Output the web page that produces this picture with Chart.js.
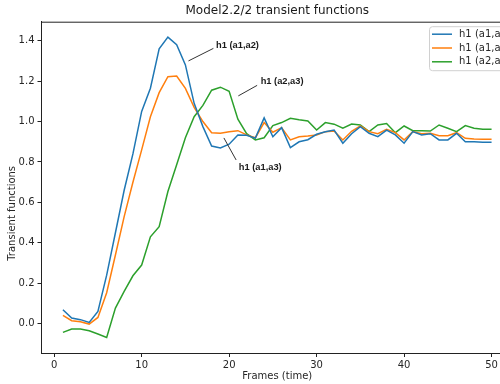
<!DOCTYPE html>
<html>
<head>
<meta charset="utf-8">
<script src="https://cdn.jsdelivr.net/npm/chart.js@4.4.0/dist/chart.umd.min.js"></script>
<style>
  html, body { margin: 0; padding: 0; overflow: hidden; background: #fff; }
  canvas { display: block; }
</style>
</head>
<body>
<canvas id="canvasTransientes" width="516" height="384"></canvas>
<script>
// frames 1..50
let frames = [];
for (let f = 1; f <= 50; f++) frames.push(f);

let nomes = ['h1 (a1,a2)', 'h1 (a1,a3)', 'h1 (a2,a3)'];
let cores = ['#1f77b4', '#ff7f0e', '#2ca02c'];

let h1a1a2 = [0.069, 0.028, 0.020, 0.006, 0.061, 0.24, 0.45, 0.66, 0.84, 1.05,
    1.165, 1.36, 1.418, 1.38, 1.28, 1.09, 0.975, 0.879, 0.869, 0.888,
    0.934, 0.932, 0.918, 1.018, 0.925, 0.970, 0.871, 0.900, 0.910, 0.937,
    0.950, 0.958, 0.893, 0.940, 0.975, 0.942, 0.925, 0.958, 0.934, 0.893,
    0.950, 0.934, 0.940, 0.909, 0.909, 0.942, 0.900, 0.900, 0.898, 0.898];

let h1a1a3 = [0.041, 0.015, 0.010, -0.002, 0.031, 0.153, 0.34, 0.53, 0.70, 0.86,
    1.024, 1.143, 1.222, 1.225, 1.164, 1.07, 1.00, 0.945, 0.942, 0.950,
    0.955, 0.934, 0.920, 0.995, 0.947, 0.970, 0.909, 0.925, 0.928, 0.934,
    0.950, 0.953, 0.909, 0.952, 0.978, 0.950, 0.940, 0.962, 0.945, 0.909,
    0.950, 0.940, 0.942, 0.930, 0.930, 0.945, 0.917, 0.914, 0.913, 0.913];

let h1a2a3 = [-0.043, -0.026, -0.026, -0.035, -0.051, -0.068, 0.077, 0.16, 0.237, 0.290,
    0.430, 0.480, 0.654, 0.786, 0.920, 1.024, 1.080, 1.155, 1.170, 1.150,
    1.012, 0.940, 0.909, 0.920, 0.980, 0.995, 1.016, 1.009, 1.003, 0.958,
    0.995, 0.987, 0.967, 0.988, 0.983, 0.950, 0.983, 0.990, 0.945, 0.978,
    0.955, 0.955, 0.953, 0.983, 0.967, 0.950, 0.980, 0.967, 0.962, 0.962];

let ticksX = [0, 10, 20, 30, 40, 50];
let ticksY = [0.0, 0.2, 0.4, 0.6, 0.8, 1.0, 1.2, 1.4];

// labels with a pointer line, in data units: text corner + line start/end
let anotacoes = [
    { texto: 'h1 (a1,a2)', tx: 18.5, ty: 1.378, x0: 15.35, y0: 1.30, x1: 18.2, y1: 1.362 },
    { texto: 'h1 (a2,a3)', tx: 23.6, ty: 1.20, x0: 21.05, y0: 1.127, x1: 23.2, y1: 1.179 },
    { texto: 'h1 (a1,a3)', tx: 21.1, ty: 0.772, x0: 19.4, y0: 0.919, x1: 20.8, y1: 0.81 }
];

Chart.defaults.font.family = "'DejaVu Sans', sans-serif";
Chart.defaults.font.size = 10;
Chart.defaults.color = '#262626';

function pontos(serie) {
    return frames.map(function (f, i) { return { x: f, y: serie[i] }; });
}

let series = [h1a1a2, h1a1a3, h1a2a3];

let molduraELegenda = {
    id: 'molduraELegenda',
    afterDraw: function (chart) {
        let ctx = chart.ctx;
        let area = chart.chartArea;
        let sx = chart.scales.x;
        let sy = chart.scales.y;

        // top and right spines
        ctx.save();
        ctx.strokeStyle = '#222';
        ctx.lineWidth = 1;
        ctx.beginPath();
        ctx.moveTo(area.left, area.top + 0.5);
        ctx.lineTo(area.right, area.top + 0.5);
        ctx.moveTo(area.right - 0.5, area.top);
        ctx.lineTo(area.right - 0.5, area.bottom);
        ctx.stroke();

        // pointer labels
        ctx.strokeStyle = '#333';
        ctx.lineWidth = 1;
        ctx.fillStyle = '#1a1a1a';
        ctx.font = "bold 9.3px 'Liberation Sans', Arial, sans-serif";
        ctx.textAlign = 'left';
        ctx.textBaseline = 'middle';
        anotacoes.forEach(function (a) {
            ctx.beginPath();
            ctx.moveTo(sx.getPixelForValue(a.x0), sy.getPixelForValue(a.y0));
            ctx.lineTo(sx.getPixelForValue(a.x1), sy.getPixelForValue(a.y1));
            ctx.stroke();
            ctx.fillText(a.texto, sx.getPixelForValue(a.tx), sy.getPixelForValue(a.ty));
        });

        // y axis title
        ctx.fillStyle = '#262626';
        ctx.font = "10px 'DejaVu Sans', sans-serif";
        ctx.textAlign = 'center';
        ctx.translate(12, (area.top + area.bottom) / 2 + 26);
        ctx.rotate(-Math.PI / 2);
        ctx.fillText('Transient functions', 0, 0);
        ctx.restore();

        // legend box, upper right
        ctx.save();
        let lw = 79, lh = 44;
        let lx = area.right - 5 - lw, ly = area.top + 4.5;
        ctx.fillStyle = 'rgba(255,255,255,0.85)';
        ctx.strokeStyle = '#d0d0d0';
        ctx.lineWidth = 1;
        ctx.beginPath();
        ctx.roundRect(lx + 0.5, ly + 0.5, lw, lh, 3);
        ctx.fill();
        ctx.stroke();
        ctx.font = "10px 'DejaVu Sans', sans-serif";
        ctx.textAlign = 'left';
        ctx.textBaseline = 'middle';
        chart.data.datasets.forEach(function (ds, i) {
            let yy = ly + 8 + i * 13.8;
            ctx.strokeStyle = ds.borderColor;
            ctx.lineWidth = 1.5;
            ctx.beginPath();
            ctx.moveTo(lx + 3, yy);
            ctx.lineTo(lx + 23, yy);
            ctx.stroke();
            ctx.fillStyle = '#262626';
            ctx.fillText(ds.label, lx + 30, yy);
        });
        ctx.restore();
    }
};

let canvasTransientes = document.getElementById('canvasTransientes').getContext('2d');
let chart = new Chart(canvasTransientes, {
    type: 'line',
    data: {
        datasets: series.map(function (s, i) {
            return {
                label: nomes[i],
                data: pontos(s),
                borderColor: cores[i],
                backgroundColor: cores[i],
                borderWidth: 1.5,
                pointRadius: 0,
                tension: 0,
                fill: false
            };
        })
    },
    options: {
        responsive: false,
        animation: false,
        layout: { padding: { left: 0, right: 3, top: 0, bottom: 0 } },
        plugins: {
            legend: { display: false },
            tooltip: { enabled: false },
            title: {
                display: true,
                text: 'Model2.2/2 transient functions',
                fullSize: false,
                color: '#1a1a1a',
                font: { size: 12, weight: 'normal' },
                padding: { top: 4, bottom: 3.3 }
            }
        },
        scales: {
            x: {
                type: 'linear',
                min: -1.45,
                max: 52.45,
                afterBuildTicks: function (scale) {
                    scale.ticks = ticksX.map(function (v) { return { value: v }; });
                },
                afterFit: function (scale) { scale.height = 31; },
                ticks: { padding: 2, maxRotation: 0, callback: function (v) { return v; } },
                grid: { drawOnChartArea: false, drawTicks: true, tickLength: 4, tickColor: '#222' },
                border: { display: true, color: '#222', width: 1 },
                title: { display: true, text: 'Frames (time)', padding: { top: 0, bottom: 2 } }
            },
            y: {
                type: 'linear',
                min: -0.145,
                max: 1.494,
                afterBuildTicks: function (scale) {
                    scale.ticks = ticksY.map(function (v) { return { value: v }; });
                },
                afterFit: function (scale) { scale.width = 41.5; },
                ticks: { padding: 3, callback: function (v) { return v.toFixed(1); } },
                grid: { drawOnChartArea: false, drawTicks: true, tickLength: 4, tickColor: '#222' },
                border: { display: true, color: '#222', width: 1 }
            }
        }
    },
    plugins: [molduraELegenda]
});
</script>
</body>
</html>
